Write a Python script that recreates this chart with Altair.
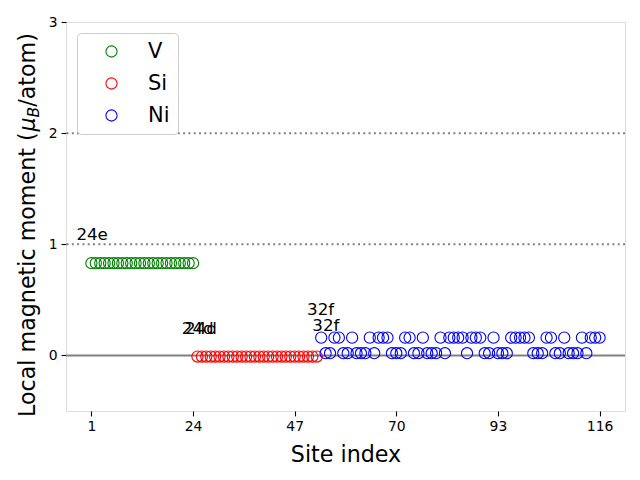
import altair as alt
import pandas as pd

# ---------------- data ----------------
v_sites = [1, 2, 3, 4, 5, 6, 7, 8, 9, 10, 11, 12, 13, 14, 15, 16, 17, 18, 19, 20, 21, 22, 23, 24]
v_moments = [0.83, 0.83, 0.83, 0.83, 0.83, 0.83, 0.83, 0.83, 0.83, 0.83, 0.83, 0.83,
             0.83, 0.83, 0.83, 0.83, 0.83, 0.83, 0.83, 0.83, 0.83, 0.83, 0.83, 0.83]

si_sites = [25, 26, 27, 28, 29, 30, 31, 32, 33, 34, 35, 36, 37, 38, 39, 40, 41, 42, 43, 44,
            45, 46, 47, 48, 49, 50, 51, 52]
si_moments = [-0.01, -0.01, -0.01, -0.01, -0.01, -0.01, -0.01, -0.01, -0.01, -0.01,
              -0.01, -0.01, -0.01, -0.01, -0.01, -0.01, -0.01, -0.01, -0.01, -0.01,
              -0.01, -0.01, -0.01, -0.01, -0.01, -0.01, -0.01, -0.01]

ni_sites = [53, 54, 55, 56, 57, 58, 59, 60, 61, 62, 63, 64, 65, 66, 67, 68, 69, 70, 71, 72,
            73, 74, 75, 76, 77, 78, 79, 80, 81, 82, 83, 84, 85, 86, 87, 88, 89, 90, 91, 92,
            93, 94, 95, 96, 97, 98, 99, 100, 101, 102, 103, 104, 105, 106, 107, 108, 109,
            110, 111, 112, 113, 114, 115, 116]
ni_moments = [0.16, 0.02, 0.02, 0.16, 0.16, 0.02, 0.02, 0.16, 0.02, 0.02, 0.02, 0.16,
              0.02, 0.16, 0.16, 0.16, 0.02, 0.02, 0.02, 0.16, 0.16, 0.02, 0.02, 0.16,
              0.02, 0.02, 0.02, 0.16, 0.02, 0.16, 0.16, 0.16, 0.16, 0.02, 0.16, 0.16,
              0.16, 0.02, 0.02, 0.16, 0.02, 0.02, 0.02, 0.16, 0.16, 0.16, 0.16, 0.16,
              0.02, 0.02, 0.02, 0.16, 0.16, 0.02, 0.02, 0.16, 0.02, 0.02, 0.02, 0.16,
              0.02, 0.16, 0.16, 0.16]

elements = ["V", "Si", "Ni"]
element_colors = ["#008000", "#ff0000", "#0000ff"]

x_ticks = [1, 24, 47, 70, 93, 116]
y_ticks = [0, 1, 2, 3]
x_domain = [-4.75, 121.75]
y_domain = [-0.5, 3.0]

ann_text = ["24e", "24d", "24d", "32f", "32f"]
ann_x = [-2.4, 21.45, 22.2, 49.8, 51.0]
ann_y = [1.04, 0.19, 0.19, 0.362, 0.218]

solid_lines = [0]
dotted_lines = [1, 2]

# ---------------- build tables ----------------
pts = pd.DataFrame({
    "site": v_sites + si_sites + ni_sites,
    "moment": v_moments + si_moments + ni_moments,
    "element": ["V"] * len(v_sites) + ["Si"] * len(si_sites) + ["Ni"] * len(ni_sites),
})
ann = pd.DataFrame({"x": ann_x, "y": ann_y, "text": ann_text})

W, H = 559, 389
FONT = "DejaVu Sans"

xscale = alt.Scale(domain=x_domain, nice=False, zero=False)
yscale = alt.Scale(domain=y_domain, nice=False, zero=False)

x_axis = alt.Axis(values=x_ticks, title="Site index", grid=False, domain=False, format="d",
                  labelFontSize=13.9, titleFontSize=22.2, labelFont=FONT, titleFont=FONT,
                  tickSize=4.9, tickColor="black", tickWidth=1.1, labelColor="black",
                  titleColor="black", labelPadding=4, titlePadding=10, titleFontWeight="normal",
                  labelFlush=False)
y_axis = alt.Axis(values=y_ticks, title=None, grid=False, domain=False, format="d",
                  labelFontSize=13.9, labelFont=FONT, tickSize=4.9, tickColor="black",
                  tickWidth=1.1, labelColor="black", labelPadding=4, labelFlush=False)

base_rule_solid = alt.Chart(pd.DataFrame({"y": solid_lines})).mark_rule(
    color="#808080", strokeWidth=2.0
).encode(y=alt.Y("y:Q", scale=yscale, axis=y_axis))

base_rule_dot = alt.Chart(pd.DataFrame({"y": dotted_lines})).mark_rule(
    color="#808080", strokeWidth=2.0, strokeDash=[2, 3.3]
).encode(y=alt.Y("y:Q", scale=yscale))

points = alt.Chart(pts).mark_point(
    shape="circle", filled=False, size=125, strokeWidth=1.1, opacity=1
).encode(
    x=alt.X("site:Q", scale=xscale, axis=x_axis),
    y=alt.Y("moment:Q", scale=yscale),
    color=alt.Color("element:N",
                    scale=alt.Scale(domain=elements, range=element_colors),
                    sort=elements,
                    legend=alt.Legend(title=None, orient="none", legendX=11, legendY=11,
                                      fillColor="white", strokeColor="#cccccc",
                                      cornerRadius=4, padding=8, symbolOffset=16,
                                      labelOffset=26, rowPadding=10,
                                      labelFontSize=21, labelFont=FONT, labelColor="black",
                                      symbolSize=125, symbolStrokeWidth=1.1,
                                      symbolType="circle", symbolFillColor="transparent")),
)

labels = alt.Chart(ann).mark_text(
    align="left", baseline="alphabetic", fontSize=16.7, font=FONT, color="black"
).encode(x=alt.X("x:Q", scale=xscale), y=alt.Y("y:Q", scale=yscale), text="text:N")

# y axis title with subscript, built from pieces
one = pd.DataFrame({"a": [0]})
def piece(txt, xpos, ypos, size, style="normal"):
    return alt.Chart(one).mark_text(
        text=txt, angle=270, align="left", baseline="alphabetic",
        fontSize=size, font=FONT, fontStyle=style, color="black"
    ).encode(x=alt.value(xpos), y=alt.value(ypos))

t1 = piece("Local magnetic moment (", -31, 395, 22.2)
t2 = piece("\u03bc", -31, 109.6, 22.2, "italic")
t3 = piece("B", -27, 95.5, 15.5, "italic")
t4 = piece("/atom)", -31, 84.8, 22.2)

chart = alt.layer(base_rule_solid, base_rule_dot, points, labels, t1, t2, t3, t4).properties(
    width=W, height=H,
    autosize=alt.AutoSizeParams(type="none"),
    padding={"left": 66, "top": 22, "right": 15, "bottom": 69},
).configure_view(stroke="black", strokeWidth=1.1).configure(background="white")

chart.save("out.html", embed_options={"renderer": "svg", "actions": False})
